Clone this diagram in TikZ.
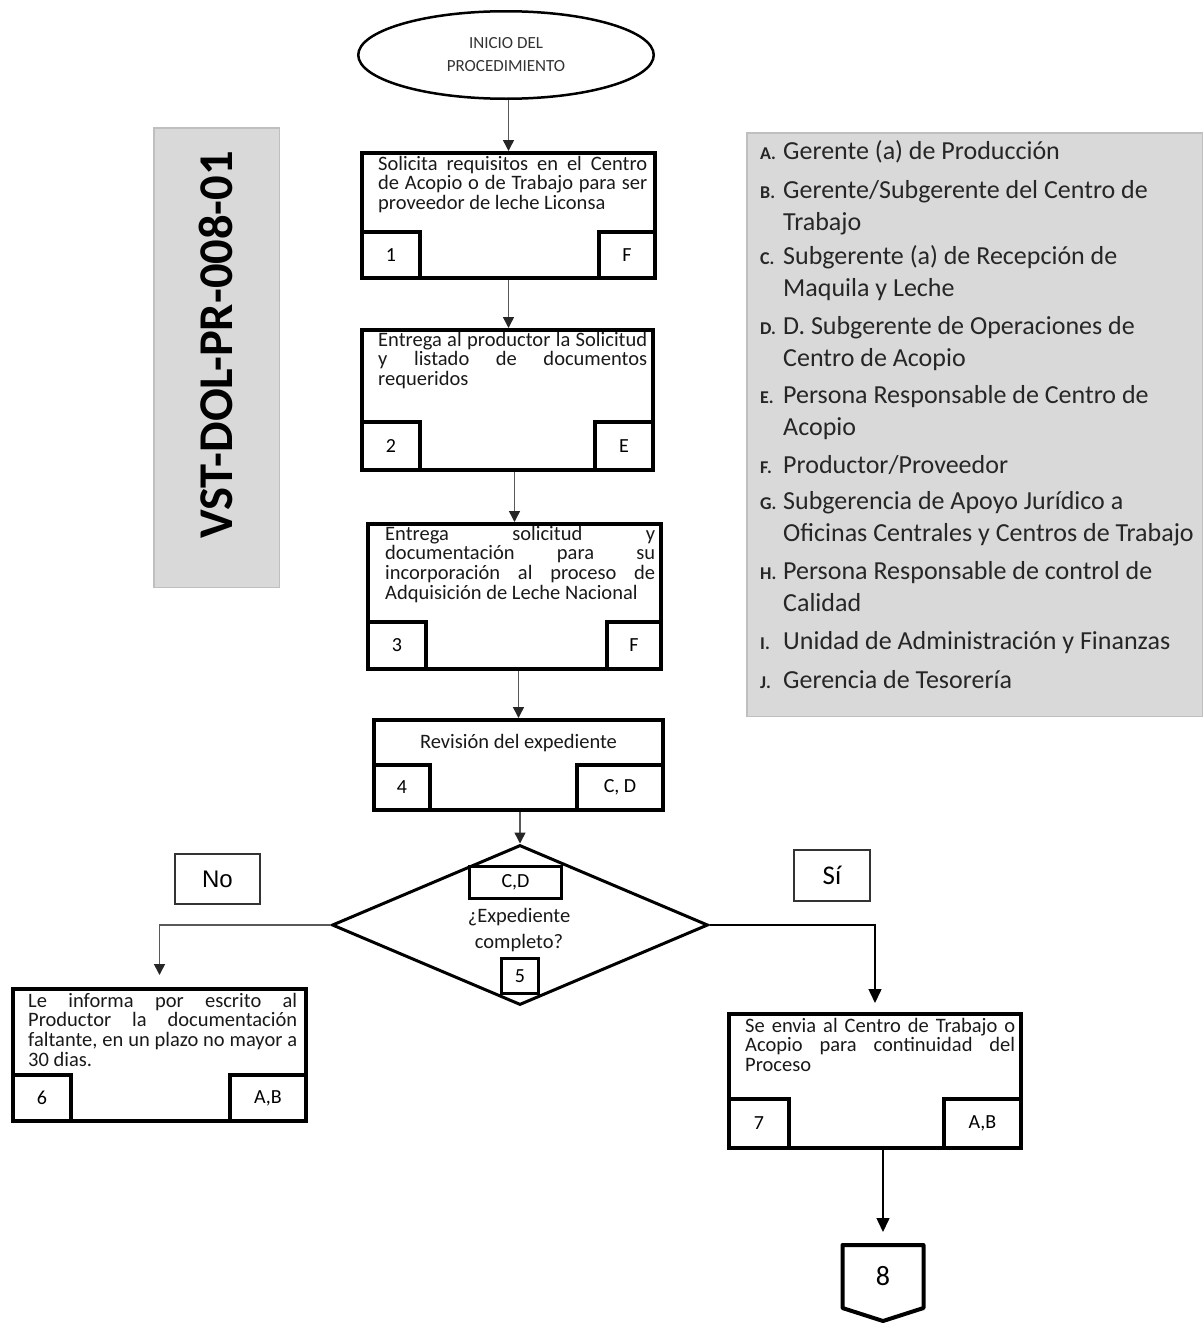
\documentclass[tikz,border=0pt]{standalone}
\usepackage{fontspec}
\setmainfont{Carlito}
\newfontfamily\arialfont{Liberation Sans}
\usetikzlibrary{positioning,arrows.meta,shapes.geometric}

\begin{document}
\begin{tikzpicture}[x=1pt, y=-1pt,
  stepbox/.style={draw, line width=4pt, inner sep=0pt},
  numbox/.style={draw, line width=4pt, fill=white, inner sep=0pt, font=\fontsize{20}{22}\selectfont},
  smallbox/.style={draw, line width=3pt, fill=white, inner sep=0pt, font=\fontsize{20}{22}\selectfont},
  steptxt/.style={inner sep=0pt, text width=269pt, align=justify, anchor=base west, text=black!90, font=\fontsize{20.5}{19.7}\selectfont},
  lbl/.style={draw=black!80, line width=1.5pt, inner sep=0pt},
  grey/.style={draw=black!25, fill=black!15, line width=1.5pt, inner sep=0pt},
  legl/.style={anchor=base west, inner sep=0pt, text=black!85, font=\bfseries\fontsize{18}{20}\selectfont},
  legt/.style={anchor=base west, inner sep=0pt, align=left, text=black!85, font=\fontsize{26}{32.5}\selectfont},
  arr/.style={-{Triangle[length=11pt, width=11pt, color=black!85]}, line width=1.5pt, draw=black!65},
  arrk/.style={-{Triangle[length=14pt, width=13pt]}, line width=1.5pt}]
\useasboundingbox (0,0) rectangle (1203,1325);

% document code
\node[grey, minimum width=125.5pt, minimum height=459.5pt] (codebox) at (216.5,357.5) {};
\node[rotate=90, inner sep=0pt, font=\bfseries\fontsize{48.5}{50}\selectfont] (code) at (216,345) {VST-DOL-PR-008-01};

% legend (multi-line texts sit on their last line)
\node[grey, minimum width=455.5pt, minimum height=583.5pt] (leg) at (974.5,424.5) {};
\node[legl] (kA) at (760,159) {A.};
\node[legt] (lA) at (783,159) {Gerente (a) de Producción};
\node[legl] (kB) at (760,198) {B.};
\node[legt] (lB) at (783,230.5) {Gerente/Subgerente del Centro de\\Trabajo};
\node[legl] (kC) at (760,264) {C.};
\node[legt] (lC) at (783,296.5) {Subgerente (a) de Recepción de\\Maquila y Leche};
\node[legl] (kD) at (760,334) {D.};
\node[legt] (lD) at (783,366.5) {D. Subgerente de Operaciones de\\Centro de Acopio};
\node[legl] (kE) at (760,403) {E.};
\node[legt] (lE) at (783,435.5) {Persona Responsable de Centro de\\Acopio};
\node[legl] (kF) at (760,473) {F.};
\node[legt] (lF) at (783,473) {Productor/Proveedor};
\node[legl] (kG) at (760,509) {G.};
\node[legt] (lG) at (783,541.5) {Subgerencia de Apoyo Jurídico a\\Oficinas Centrales y Centros de Trabajo};
\node[legl] (kH) at (760,579) {H.};
\node[legt] (lH) at (783,611.5) {Persona Responsable de control de\\Calidad};
\node[legl] (kI) at (760,649) {I.};
\node[legt] (lI) at (783,649) {Unidad de Administración y Finanzas};
\node[legl] (kJ) at (760,688) {J.};
\node[legt] (lJ) at (783,688) {Gerencia de Tesorería};

% start
\node[ellipse, draw, line width=2.5pt, minimum width=295.5pt, minimum height=87.5pt, align=center, text=black!80, font=\fontsize{17}{23}\selectfont] (start) at (506,55) {INICIO DEL\\PROCEDIMIENTO};

% step 1
\node[stepbox, minimum width=293pt, minimum height=125pt] (s1) at (508.5,215.5) {};
\node[steptxt] (t1) at ([xshift=18pt, yshift=-19pt]s1.north west) {Solicita requisitos en el Centro\linebreak de Acopio o de Trabajo para ser\linebreak proveedor de leche Liconsa};
\node[numbox, minimum width=58pt, minimum height=46pt, anchor=south west] (n1) at (s1.south west) {1};
\node[numbox, minimum width=56pt, minimum height=46pt, anchor=south east] (r1) at (s1.south east) {F};

% step 2
\node[stepbox, minimum width=291pt, minimum height=140pt] (s2) at (507.5,400) {};
\node[steptxt] (t2) at ([xshift=18pt, yshift=-18pt]s2.north west) {Entrega al productor la Solicitud\linebreak y listado de documentos\linebreak requeridos};
\node[numbox, minimum width=58pt, minimum height=48pt, anchor=south west] (n2) at (s2.south west) {2};
\node[numbox, minimum width=58pt, minimum height=48pt, anchor=south east] (r2) at (s2.south east) {E};

% step 3
\node[stepbox, minimum width=293pt, minimum height=145pt] (s3) at (514.5,596.5) {};
\node[steptxt, text width=270pt] (t3) at ([xshift=19pt, yshift=-18pt]s3.north west) {Entrega solicitud y\linebreak documentación para su\linebreak incorporación al proceso de\linebreak Adquisición de Leche Nacional};
\node[numbox, minimum width=58pt, minimum height=47pt, anchor=south west] (n3) at (s3.south west) {3};
\node[numbox, minimum width=54pt, minimum height=47pt, anchor=south east] (r3) at (s3.south east) {F};

% step 4
\node[stepbox, minimum width=289pt, minimum height=90pt] (s4) at (518.5,765) {};
\node[inner sep=0pt, text=black!90, font=\fontsize{20.5}{22}\selectfont] (t4) at ([yshift=-25pt]s4.north) {Revisión del expediente};
\node[numbox, minimum width=56pt, minimum height=45pt, anchor=south west] (n4) at (s4.south west) {4};
\node[numbox, minimum width=86pt, minimum height=45pt, anchor=south east] (r4) at (s4.south east) {C, D};

% decision 5
\node[diamond, draw, line width=3pt, minimum width=376pt, minimum height=160pt, inner sep=0pt] (dia) at (520,925) {};
\node[smallbox, minimum width=92pt, minimum height=32pt] (dcd) at (515.5,882.5) {C,D};
\node[align=center, inner sep=0pt, text=black!90, font=\fontsize{20.5}{26}\selectfont] (dq) at (519,930) {¿Expediente\\completo?};
\node[smallbox, line width=2.5pt, minimum width=37pt, minimum height=35pt] (d5) at (520,976) {5};
\node[lbl, minimum width=85pt, minimum height=50pt, font=\arialfont\fontsize{24}{26}\selectfont] (no) at (217.5,879) {No};
\node[lbl, minimum width=76pt, minimum height=51pt, font=\fontsize{27}{28}\selectfont] (si) at (832,875.5) {Sí};

% step 6
\node[stepbox, minimum width=293pt, minimum height=132pt] (s6) at (159.5,1055) {};
\node[steptxt] (t6) at ([xshift=17pt, yshift=-20pt]s6.north west) {Le informa por escrito al\linebreak Productor la documentación\linebreak faltante, en un plazo no mayor a\linebreak 30 dias.};
\node[numbox, minimum width=58pt, minimum height=46pt, anchor=south west] (n6) at (s6.south west) {6};
\node[numbox, minimum width=76pt, minimum height=46pt, anchor=south east] (r6) at (s6.south east) {A,B};

% step 7
\node[stepbox, minimum width=292pt, minimum height=134pt] (s7) at (875,1081) {};
\node[steptxt, text width=270pt] (t7) at ([xshift=18pt, yshift=-20pt]s7.north west) {Se envia al Centro de Trabajo o\linebreak Acopio para continuidad del\linebreak Proceso};
\node[numbox, minimum width=60pt, minimum height=49pt, anchor=south west] (n7) at (s7.south west) {7};
\node[numbox, minimum width=77pt, minimum height=49pt, anchor=south east] (r7) at (s7.south east) {A,B};

% connector 8
\node[minimum width=81pt, minimum height=63pt, inner sep=0pt, outer sep=0pt, font=\fontsize{28}{30}\selectfont] (p8) at (883,1276.5) {8};
\draw[line width=4pt, line join=round] (p8.north west) -- (p8.north east) -- (p8.south east) -- ([yshift=-13pt]p8.south) -- (p8.south west) -- cycle;

% flow
\draw[arr] (s1.north |- start.south) -- (s1.north);
\draw[arr] (s1.south) -- (s1.south |- s2.north);
\draw[arr] (s3.north |- s2.south) -- (s3.north);
\draw[arr] (s4.north |- s3.south) -- (s4.north);
\draw[arr] (dia.north |- s4.south) -- (dia.north);
\draw[arr, shorten >=12pt] (dia.west) -| (s6.north);
\draw[arrk, shorten >=9pt] (dia.east) -| (s7.north);
\draw[arrk, shorten >=13pt] (s7.south -| p8.north) -- (p8.north);
\end{tikzpicture}
\end{document}
